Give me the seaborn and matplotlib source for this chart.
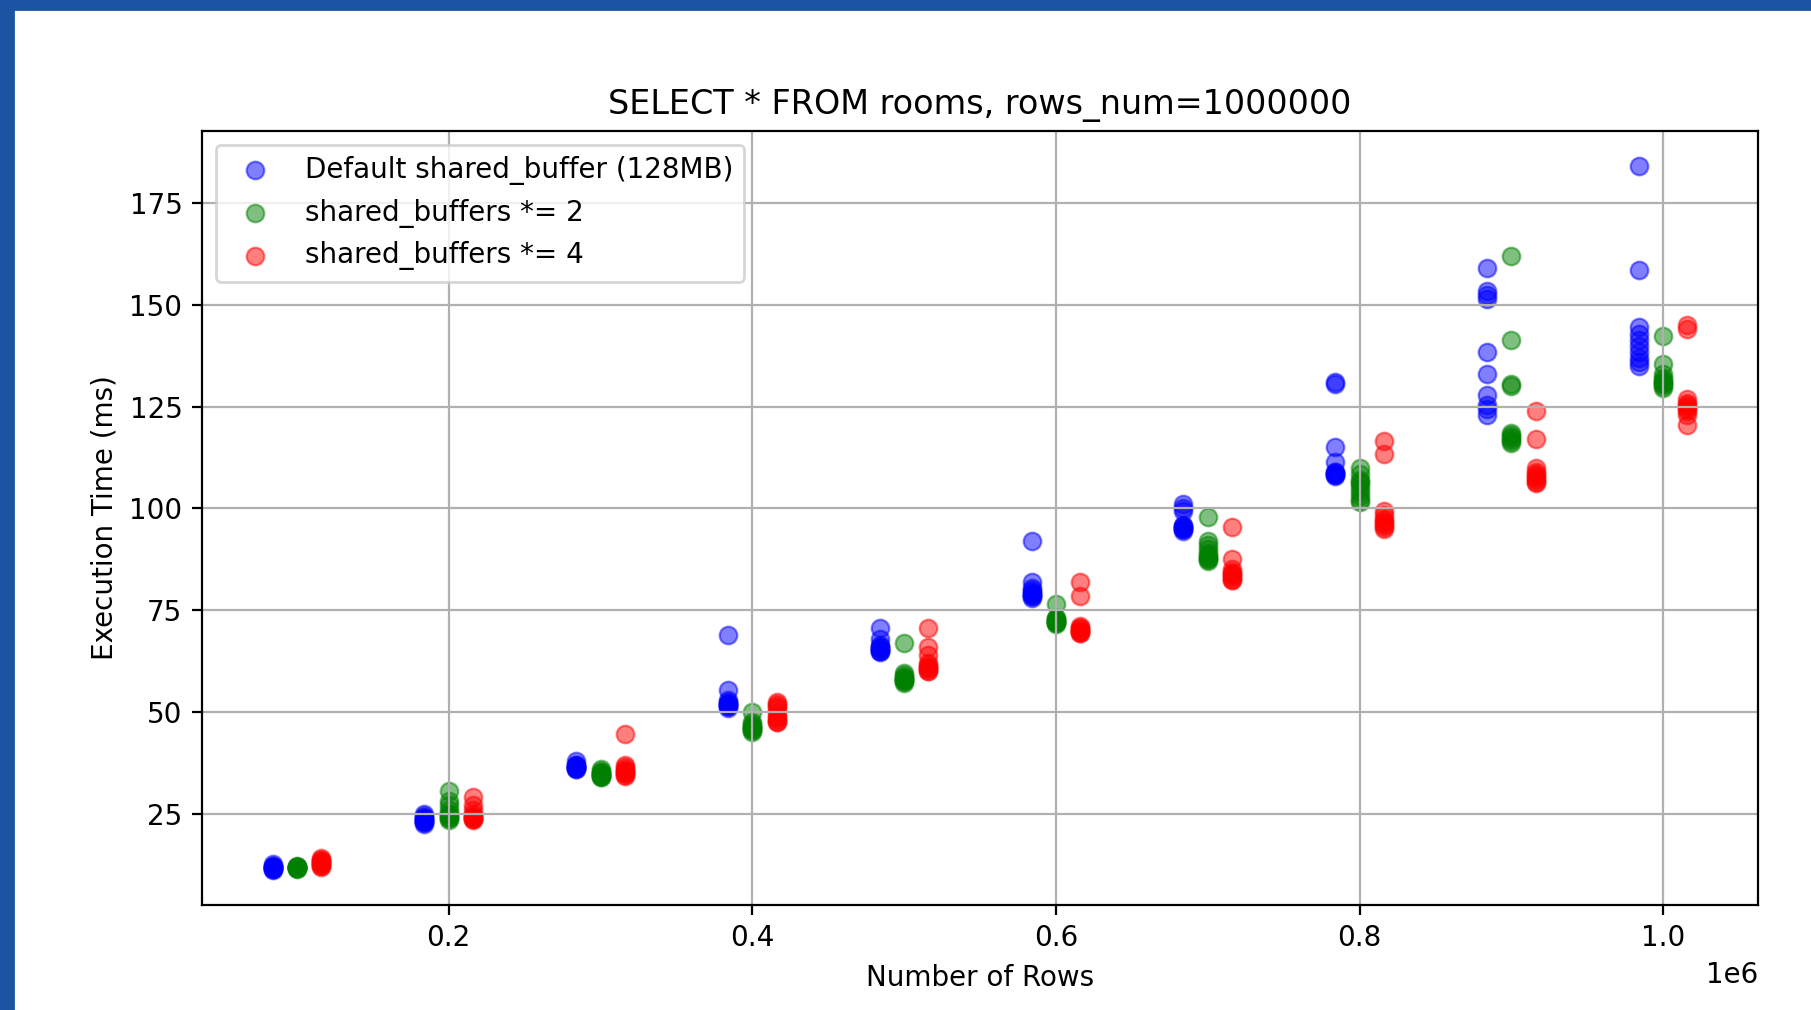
import matplotlib
matplotlib.use("Agg")
import matplotlib.pyplot as plt
from matplotlib.patches import Rectangle
import numpy as np
import pandas as pd
import seaborn as sns

# Row counts tested
rows_num = [100000, 200000, 300000, 400000, 500000,
            600000, 700000, 800000, 900000, 1000000]

# Execution times (ms), 10 runs per row count
default_times = [
    [11.2, 11.5, 11.6, 11.8, 12.0, 12.0, 12.2, 11.4, 12.5, 11.9],
    [22.5, 23.0, 23.0, 23.5, 23.5, 24.0, 24.0, 24.5, 25.0, 23.2],
    [38.0, 37.0, 36.5, 36.5, 36.0, 36.0, 36.5, 37.0, 36.2, 36.8],
    [69.0, 55.5, 53.0, 52.0, 52.0, 51.5, 51.5, 52.0, 51.0, 52.5],
    [70.5, 68.0, 66.5, 66.0, 65.5, 65.0, 65.0, 66.0, 64.8, 65.5],
    [92.0, 82.0, 80.0, 79.5, 79.0, 78.5, 78.5, 79.0, 78.0, 80.5],
    [101.0, 100.0, 99.5, 96.0, 95.5, 95.0, 95.0, 94.5, 95.2, 95.8],
    [131.0, 130.5, 115.0, 111.5, 109.0, 108.5, 108.5, 108.0, 109.0, 108.2],
    [159.0, 153.5, 152.5, 151.5, 138.5, 133.0, 128.0, 125.5, 124.5, 123.0],
    [184.2, 158.5, 144.5, 143.0, 141.5, 140.0, 138.5, 137.0, 136.0, 135.0],
]
x2_times = [
    [11.5, 11.8, 12.0, 11.6, 11.9, 12.1, 11.7, 11.8, 12.0, 11.6],
    [30.5, 28.0, 27.0, 26.0, 25.0, 24.5, 24.0, 23.5, 24.0, 25.0],
    [36.0, 35.5, 35.0, 34.5, 34.0, 34.0, 35.0, 34.5, 35.0, 34.2],
    [50.0, 47.5, 47.0, 46.5, 46.0, 45.5, 45.5, 46.0, 45.0, 46.2],
    [67.0, 59.5, 59.0, 58.5, 58.0, 57.5, 57.5, 58.0, 57.0, 58.2],
    [76.5, 73.0, 72.5, 72.0, 72.0, 71.5, 72.5, 73.0, 71.8, 72.2],
    [98.0, 92.0, 91.0, 89.0, 88.0, 87.5, 87.0, 87.5, 88.5, 90.0],
    [110.0, 108.5, 107.0, 106.0, 105.0, 104.0, 103.0, 102.0, 101.5, 106.5],
    [162.0, 141.5, 130.5, 130.0, 118.5, 117.5, 117.0, 116.5, 116.0, 118.0],
    [142.5, 135.5, 133.0, 132.0, 131.5, 131.0, 130.5, 130.0, 129.5, 130.8],
]
x4_times = [
    [12.0, 12.5, 13.0, 13.5, 14.0, 12.2, 12.8, 13.2, 12.4, 13.6],
    [29.0, 27.0, 26.0, 25.0, 24.5, 24.0, 23.5, 24.0, 23.8, 24.2],
    [44.5, 37.0, 36.5, 36.0, 35.5, 35.0, 35.0, 34.5, 34.2, 35.5],
    [52.5, 52.0, 51.0, 50.0, 49.0, 48.0, 47.5, 47.5, 48.5, 51.5],
    [70.5, 66.0, 64.0, 62.0, 61.0, 60.5, 60.0, 60.0, 61.5, 60.8],
    [82.0, 78.5, 71.0, 70.5, 70.0, 69.5, 69.5, 70.0, 70.5, 69.8],
    [95.5, 87.5, 85.0, 84.5, 84.0, 83.5, 83.0, 82.5, 82.5, 84.0],
    [116.5, 113.5, 99.5, 98.5, 97.5, 97.0, 96.5, 96.0, 95.5, 95.0],
    [124.0, 117.0, 110.0, 109.0, 108.5, 107.5, 107.0, 106.5, 106.2, 108.0],
    [145.0, 144.0, 127.0, 126.0, 125.5, 125.0, 124.5, 124.0, 120.5, 123.0],
]

series_labels = ['Default shared_buffer (128MB)', 'shared_buffers *= 2', 'shared_buffers *= 4']
series_colors = ['blue', 'green', 'red']
series_offsets = [-16000, 0, 16000]


def to_frame(times, offset):
    xs, ys = [], []
    for n, runs in zip(rows_num, times):
        xs += [n + offset] * len(runs)
        ys += runs
    return pd.DataFrame({'rows': xs, 'time': ys})


fig = plt.figure(figsize=(9.055, 5.05), dpi=200)
ax = fig.add_axes([0.1115, 0.104, 0.8593, 0.7666])

for times, label, color, off in zip([default_times, x2_times, x4_times],
                                    series_labels, series_colors, series_offsets):
    df = to_frame(times, off)
    sns.scatterplot(data=df, x='rows', y='time', color=color, alpha=0.5,
                    s=40, edgecolor='face', linewidth=0.8, label=label, ax=ax)

ax.set_title('SELECT * FROM rooms, rows_num=1000000')
ax.set_xlabel('Number of Rows')
ax.set_ylabel('Execution Time (ms)')
ax.grid(True)
ax.legend(loc='upper left')

# screenshot frame (blue bars on top and left)
frame_color = '#1c54a4'
fig.patches.append(Rectangle((0, 1 - 9 / 1010), 1, 9 / 1010, transform=fig.transFigure,
                             color=frame_color, zorder=10))
fig.patches.append(Rectangle((0, 0), 13 / 1811, 1, transform=fig.transFigure,
                             color=frame_color, zorder=10))

fig.savefig('out.png', dpi=200)
